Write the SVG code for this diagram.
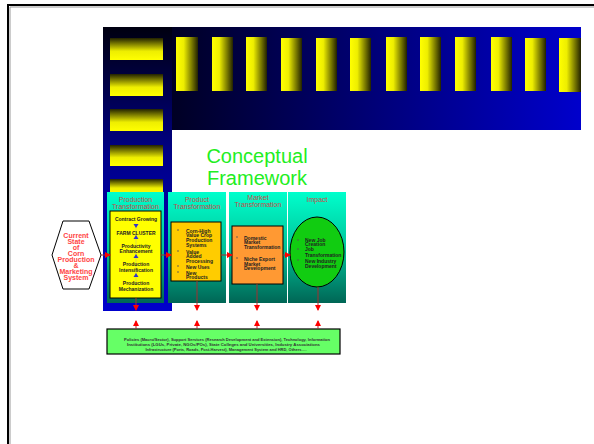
<svg xmlns="http://www.w3.org/2000/svg" width="594" height="444" viewBox="0 0 594 444">
<defs>
<linearGradient id="gTop" x1="0" y1="0" x2="1" y2="0"><stop offset="0" stop-color="#000008"/><stop offset="1" stop-color="#0000CC"/></linearGradient>
<linearGradient id="gCol" x1="0" y1="0" x2="0" y2="1"><stop offset="0" stop-color="#000010"/><stop offset="0.45" stop-color="#000088"/><stop offset="1" stop-color="#0000CC"/></linearGradient>
<linearGradient id="gHBar" x1="0" y1="0" x2="0" y2="1"><stop offset="0" stop-color="#222200"/><stop offset="0.6" stop-color="#EEEE00"/><stop offset="1" stop-color="#FFFF00"/></linearGradient>
<linearGradient id="gVBar" x1="0" y1="0" x2="1" y2="0"><stop offset="0" stop-color="#FFFF00"/><stop offset="0.35" stop-color="#EEEE00"/><stop offset="1" stop-color="#222200"/></linearGradient>
<linearGradient id="gPanel" x1="0" y1="0" x2="0" y2="1"><stop offset="0" stop-color="#00FFCC"/><stop offset="0.5" stop-color="#00C49A"/><stop offset="1" stop-color="#006655"/></linearGradient>
<marker id="ar" markerWidth="6" markerHeight="6" refX="5" refY="3" orient="auto" markerUnits="userSpaceOnUse"><path d="M0,0 L6,3 L0,6 z" fill="#FF0000"/></marker>
<marker id="ab" markerWidth="5" markerHeight="5" refX="4" refY="2.5" orient="auto" markerUnits="userSpaceOnUse"><path d="M0,0 L5,2.5 L0,5 z" fill="#3333CC"/></marker>
</defs>
<style>
.t{font-family:"Liberation Sans",Arial,sans-serif;}
.pt{font-family:"Liberation Sans",Arial,sans-serif;font-size:7px;fill:#C84848;text-anchor:middle;}
.bx{font-family:"Liberation Sans",Arial,sans-serif;font-size:5px;font-weight:bold;fill:#222;}
.bc{text-anchor:middle;}
.hb{fill:url(#gHBar);}
.vb{fill:url(#gVBar);}
.panel{fill:url(#gPanel);}
.ln{stroke:#A03030;stroke-width:1;fill:none;}
.bul{fill:#555;}
</style>
<rect x="0" y="0" width="594" height="444" fill="#FFFFFF"/>
<g id="frame">
<path d="M8,450 L8,5 L600,5" fill="none" stroke="#000" stroke-width="2"/>
<path d="M10,450 L10,7 L600,7" fill="none" stroke="#999" stroke-width="1"/>
</g>
<g id="background">
<rect x="103" y="27" width="478" height="103" fill="url(#gTop)"/>
<rect x="103" y="27" width="69" height="284" fill="url(#gCol)"/>
<rect class="hb" x="110" y="38" width="53" height="22"/>
<rect class="hb" x="110" y="74" width="53" height="22"/>
<rect class="hb" x="110" y="109" width="53" height="22"/>
<rect class="hb" x="110" y="145" width="53" height="21"/>
<rect class="hb" x="110" y="179" width="53" height="15"/>
<rect class="vb" x="176" y="37" width="22" height="54"/>
<rect class="vb" x="212" y="37" width="21" height="54"/>
<rect class="vb" x="246" y="37" width="21" height="54"/>
<rect class="vb" x="281" y="38" width="21" height="53"/>
<rect class="vb" x="316" y="38" width="21" height="53"/>
<rect class="vb" x="350" y="38" width="21" height="53"/>
<rect class="vb" x="386" y="37" width="21" height="54"/>
<rect class="vb" x="420" y="37" width="21" height="54"/>
<rect class="vb" x="455" y="37" width="21" height="54"/>
<rect class="vb" x="491" y="37" width="21" height="54"/>
<rect class="vb" x="525" y="38" width="21" height="53"/>
<rect class="vb" x="559" y="38" width="22" height="54"/>
</g>
<g id="title">
<text class="t" x="257" y="163" font-size="20" fill="#22EE22" text-anchor="middle">Conceptual</text>
<text class="t" x="257" y="185" font-size="20" fill="#22EE22" text-anchor="middle">Framework</text>
</g>
<g id="panel1">
<rect class="panel" x="107" y="192" width="57" height="111"/>
<text class="pt" x="135.5" y="201.5">Production</text>
<text class="pt" x="135.5" y="208.5">Transformation</text>
<rect x="110" y="211" width="51" height="87" fill="#FFFF00" stroke="#000" stroke-width="1"/>
<line x1="136" y1="224" x2="136" y2="285" stroke="#C8C86A" stroke-width="0.6"/>
<path d="M133.5,224 L138.5,224 L136,228 z" fill="#3333CC"/>
<path d="M133.5,239 L138.5,239 L136,235 z" fill="#3333CC"/>
<path d="M133.5,258 L138.5,258 L136,254 z" fill="#3333CC"/>
<path d="M133.5,277 L138.5,277 L136,273 z" fill="#3333CC"/>
<text class="bx bc" x="136" y="221">Contract Growing</text>
<text class="bx bc" x="136" y="235">FARM CLUSTER</text>
<text class="bx bc" x="136" y="247.5">Productivity</text>
<text class="bx bc" x="136" y="253">Enhancement</text>
<text class="bx bc" x="136" y="266">Production</text>
<text class="bx bc" x="136" y="271.5">Intensification</text>
<text class="bx bc" x="136" y="285">Production</text>
<text class="bx bc" x="136" y="290.5">Mechanization</text>
</g>
<g id="panel2">
<rect class="panel" x="168" y="192" width="58" height="111"/>
<text class="pt" x="197" y="201.5">Product</text>
<text class="pt" x="197" y="208.5">Transformation</text>
<rect x="171" y="222" width="50" height="59" fill="#FFCC00" stroke="#000" stroke-width="1"/>
<circle class="bul" cx="178" cy="230" r="0.8"/><circle class="bul" cx="178" cy="251" r="0.8"/><circle class="bul" cx="178" cy="266" r="0.8"/><circle class="bul" cx="178" cy="272" r="0.8"/>
<text class="bx" x="186" y="232.5">Corn-High</text>
<text class="bx" x="186" y="237">Value Crop</text>
<text class="bx" x="186" y="241.5">Production</text>
<text class="bx" x="186" y="246.5">Systems</text>
<text class="bx" x="186" y="253.5">Value</text>
<text class="bx" x="186" y="258">Added</text>
<text class="bx" x="186" y="262.5">Processing</text>
<text class="bx" x="186" y="268.5">New Uses</text>
<text class="bx" x="186" y="274.5">New</text>
<text class="bx" x="186" y="279">Products</text>
</g>
<g id="panel3">
<rect class="panel" x="229" y="192" width="58" height="111"/>
<text class="pt" x="258" y="200">Market</text>
<text class="pt" x="258" y="207">Transformation</text>
<rect x="232" y="226" width="51" height="58" fill="#FF9933" stroke="#000" stroke-width="1"/>
<circle class="bul" cx="237" cy="237" r="0.8"/><circle class="bul" cx="237" cy="258" r="0.8"/>
<text class="bx" x="244" y="239.5">Domestic</text>
<text class="bx" x="244" y="244">Market</text>
<text class="bx" x="244" y="248.5">Transformation</text>
<text class="bx" x="244" y="260.5">Niche Export</text>
<text class="bx" x="244" y="265.5">Market</text>
<text class="bx" x="244" y="270">Development</text>
</g>
<g id="panel4">
<rect class="panel" x="288" y="192" width="58" height="111"/>
<text class="pt" x="317" y="202">Impact</text>
<ellipse cx="317" cy="252" rx="27" ry="35" fill="#11CC11" stroke="#000" stroke-width="1"/>
<circle class="bul" cx="298" cy="240" r="0.8"/><circle class="bul" cx="298" cy="249" r="0.8"/><circle class="bul" cx="298" cy="260" r="0.8"/>
<text class="bx" x="305" y="241.5">New Job</text>
<text class="bx" x="305" y="246">Creation</text>
<text class="bx" x="305" y="251">Job</text>
<text class="bx" x="305" y="256.5">Transformation</text>
<text class="bx" x="305" y="262.5">New Industry</text>
<text class="bx" x="305" y="267.5">Development</text>
</g>
<g id="current-state">
<polygon points="52,255 63,221 89,221 101,255 89,289 63,289" fill="#FFFFFF" stroke="#000" stroke-width="1"/>
<g class="t" font-size="7" font-weight="bold" fill="#FF4444" text-anchor="middle">
<text x="76" y="237.5">Current</text>
<text x="76" y="243.5">State</text>
<text x="76" y="249.5">of</text>
<text x="76" y="255.5">Corn</text>
<text x="76" y="261.5">Production</text>
<text x="76" y="267.5">&amp;</text>
<text x="76" y="273.5">Marketing</text>
<text x="76" y="279.5">System</text>
</g>
</g>
<g id="support">
<rect x="107" y="329" width="233" height="25" fill="#66FF66" stroke="#000" stroke-width="1.2"/>
<g class="t" font-size="4.2" font-weight="bold" fill="#333" text-anchor="middle">
<text x="227" y="340.5" textLength="206" lengthAdjust="spacingAndGlyphs">Policies (Macro/Sector), Support Services (Research Development and Extension), Technology, Information</text>
<text x="223.5" y="345.5" textLength="193" lengthAdjust="spacingAndGlyphs">Institutions (LGUs, Private, NGOs/POs), State Colleges and Universities, Industry Associations</text>
<text x="226" y="350.5" textLength="161" lengthAdjust="spacingAndGlyphs">Infrastructure (Ports, Roads, Post-Harvest), Management System and HRD, Others….</text>
</g>
</g>
<g id="connectors">
<line class="ln" x1="101" y1="255" x2="110" y2="255" marker-end="url(#ar)"/>
<line class="ln" x1="161" y1="255" x2="171" y2="255" marker-end="url(#ar)"/>
<line class="ln" x1="221" y1="255" x2="232" y2="255" marker-end="url(#ar)"/>
<line class="ln" x1="283" y1="255" x2="290" y2="255" marker-end="url(#ar)"/>
<line class="ln" x1="136" y1="298" x2="136" y2="310" marker-end="url(#ar)"/>
<line class="ln" x1="197" y1="281" x2="197" y2="310" marker-end="url(#ar)"/>
<line class="ln" x1="257" y1="284" x2="257" y2="310" marker-end="url(#ar)"/>
<line class="ln" x1="318" y1="287" x2="318" y2="310" marker-end="url(#ar)"/>
<line class="ln" x1="136" y1="329" x2="136" y2="321" marker-end="url(#ar)"/>
<line class="ln" x1="197" y1="329" x2="197" y2="321" marker-end="url(#ar)"/>
<line class="ln" x1="257" y1="329" x2="257" y2="321" marker-end="url(#ar)"/>
<line class="ln" x1="318" y1="329" x2="318" y2="321" marker-end="url(#ar)"/>
</g>
</svg>
